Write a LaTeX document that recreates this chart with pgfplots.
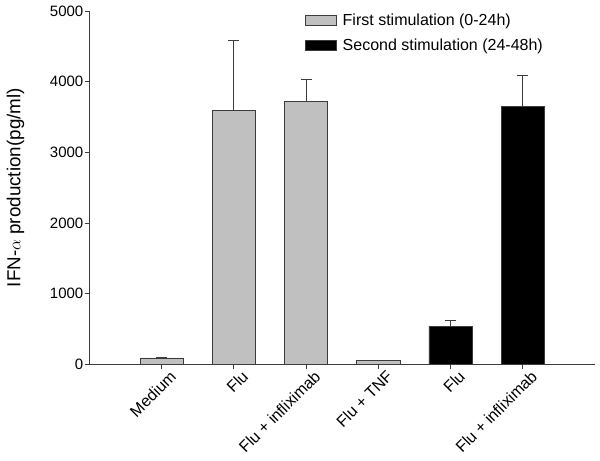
\documentclass[border=0pt]{standalone}
\usepackage{pgfplots}
\pgfplotsset{compat=1.18}
\usepackage{fontspec}
\setmainfont{Liberation Sans}
\definecolor{bargray}{RGB}{192,192,192}
\definecolor{edge}{RGB}{60,60,60}
\begin{document}
\begin{tikzpicture}
\begin{axis}[
  scale only axis,
  width=505.5pt, height=353.3pt,
  xmin=0, xmax=7, ymin=0, ymax=5000,
  axis x line*=bottom, axis y line*=left,
  axis line style={edge, line width=0.9pt},
  tick align=outside,
  tick style={edge, line width=0.9pt},
  major tick length=5pt,
  xtick={1,2,3,4,5,6},
  xticklabels={Medium,Flu,Flu + infliximab,Flu + TNF,Flu,Flu + infliximab},
  x tick label style={rotate=45, anchor=north east, font=\fontsize{16}{17}\selectfont, inner sep=0pt, yshift=-5pt, xshift=5pt},
  ytick={0,1000,2000,3000,4000,5000},
  y tick label style={font=\fontsize{15}{16}\selectfont, inner sep=1pt},
  /pgf/number format/assume math mode=true,
  /pgf/number format/set thousands separator={},
  ylabel={IFN-$\alpha$ production(pg/ml)},
  ylabel style={font=\fontsize{18.8}{20}\selectfont, at={(axis description cs:-0.122,0.5)}},
  ybar, bar width=0.6, bar shift=0pt,
  error bars/error bar style={edge, line width=0.9pt},
  error bars/error mark options={rotate=90, mark size=5.5pt, edge, line width=0.9pt},
  legend style={draw=none, fill=none, at={(rel axis cs:0.42,1.005)}, anchor=north west,
    font=\fontsize{16}{18}\selectfont, row sep=8pt, column sep=4pt},
  legend cell align=left,
  legend image code/.code={\draw[#1] (0pt,-5pt) rectangle (31pt,5pt);},
]
\addplot[fill=bargray, draw=edge, line width=0.7pt,
  error bars/.cd, y dir=plus, y explicit]
  coordinates {(1,90) +- (0,10) (2,3595) +- (0,995) (3,3715) +- (0,320) (4,60) +- (0,0)};
\addlegendentry{First stimulation (0-24h)}
\addplot[fill=black, draw=edge, line width=0.7pt,
  error bars/.cd, y dir=plus, y explicit]
  coordinates {(5,537) +- (0,80) (6,3653) +- (0,440)};
\addlegendentry{Second stimulation (24-48h)}
\end{axis}
\pgfresetboundingbox
\path ([shift={(-89.5pt,-95.7pt)}]current axis.south west) rectangle ([shift={(5pt,11pt)}]current axis.north east);
\end{tikzpicture}
\end{document}
